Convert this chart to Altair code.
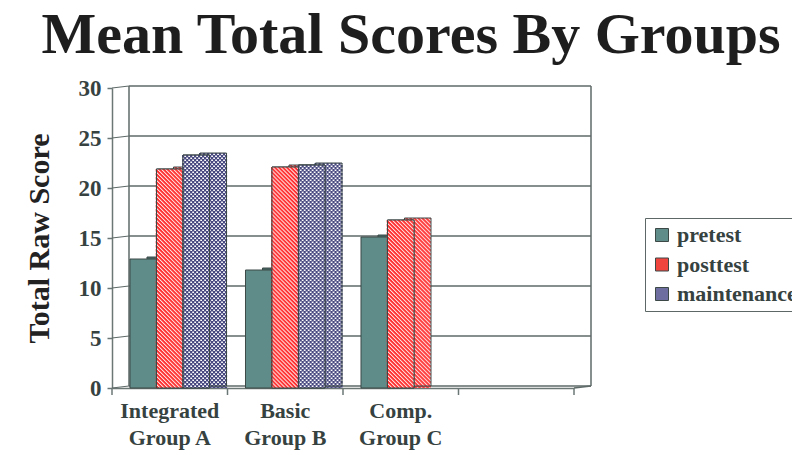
import altair as alt
import pandas as pd

# ---------------- data ----------------
title_text = "Mean Total Scores By Groups"
y_title = "Total Raw Score"
categories = ["Integrated|Group A", "Basic|Group B", "Comp.|Group C", " "]
series = ["pretest", "posttest", "maintenance"]
pretest = [12.9, 11.8, 15.1]
posttest = [21.9, 22.1, 16.8]
maintenance = [23.3, 22.3, None]
y_ticks = [0, 5, 10, 15, 20, 25, 30]

rows = []
for s, vals in zip(series, [pretest, posttest, maintenance]):
    for c, v in zip(categories, vals):
        if v is not None:
            rows.append({"cat": c, "series": s, "v": v})
df = pd.DataFrame(rows)
grid_df = pd.DataFrame({"g": y_ticks})
frame_df = pd.DataFrame({"lo": [min(y_ticks)], "hi": [max(y_ticks)]})
cat_df = pd.DataFrame({"cat": categories})

# ---------------- style ----------------
FONT = "Liberation Serif"
TXT = "#36423f"
AX = "#6b7775"
GRID = "#5e6a68"
EDGE = "#3c4846"
TEAL = "#5f8c88"
TEAL_SIDE = "#446b67"
RED = "#ff2222"
NAVY = "#474780"
W, H = 462, 300
BAR_W = 26.5
SLOT0 = 18            # left inset of first bar inside a category band (px)
DX, DY = 17, -2       # 3-D depth shift (px)
NCOL = 116            # pixel columns across one category band (pattern raster)

xscale = alt.Scale(domain=categories, paddingInner=0, paddingOuter=0)
front_o = alt.Scale(domain=series, paddingInner=0, paddingOuter=0.679, align=0.5)
back_o = alt.Scale(domain=series, paddingInner=0, paddingOuter=0.679, align=0.972)
col_o = alt.Scale(domain=list(range(NCOL)), paddingInner=0, paddingOuter=0)
yscale = alt.Scale(domain=[0, 30], nice=False, zero=True)

x_axis = alt.Axis(title=None, ticks=False, labelExpr="split(datum.value, '|')",
                  labelFont=FONT, labelFontWeight="bold", labelFontSize=22,
                  labelColor=TXT, labelLineHeight=27, labelPadding=12,
                  labelAngle=0, domainColor=AX, domainWidth=1.5, grid=False)
y_axis = alt.Axis(title=y_title, values=y_ticks, grid=False, tickSize=5,
                  tickColor=AX, tickWidth=1.5, domainColor=AX, domainWidth=1.5,
                  labelFont=FONT, labelFontWeight="bold", labelFontSize=23,
                  labelColor=TXT, labelPadding=6,
                  titleFont=FONT, titleFontSize=30, titleFontWeight="bold",
                  titleColor="#222", titleAngle=270, titleX=-73, titleY=150,
                  titleAlign="center", titleBaseline="middle")


def X(**kw):
    return alt.X("cat:N", scale=xscale, axis=x_axis, **kw)


def Y(field):
    return alt.Y(f"{field}:Q", scale=yscale, axis=y_axis)


XF = alt.XOffset("series:N", scale=front_o)
XB = alt.XOffset("series:N", scale=back_o)
XC = alt.XOffset("col:O", scale=col_o)


def columns(sub, shift, step):
    """one row per pixel column of each bar face (pattern raster)"""
    out = []
    for _, r in sub.iterrows():
        i = series.index(r["series"])
        start = int(round(SLOT0 + i * BAR_W)) + shift
        stop = int(round(SLOT0 + (i + 1) * BAR_W)) + shift
        for c in range(start, stop, step):
            out.append({"cat": r["cat"], "series": r["series"], "v": float(r["v"]),
                        "z": 0.0, "col": c, "k": (c - start) // step})
    return pd.DataFrame(out)


def faces(xo, shift, y_off):
    pre = df[df["series"] == "pretest"]
    post = df[df["series"] == "posttest"]
    mnt = df[df["series"] == "maintenance"]
    pat = pd.concat([post, mnt])
    out = [alt.Chart(pre).mark_bar(yOffset=y_off, fill=TEAL_SIDE, stroke=EDGE,
                                   strokeWidth=1)
           .encode(x=X(), xOffset=xo, y=Y("v"))] if y_off else []
    out.append(alt.Chart(pat).mark_bar(yOffset=y_off, fill="#ffffff", strokeWidth=0)
               .encode(x=X(), xOffset=xo, y=Y("v")))
    # red diagonal hatch: 1px dashed columns, phase shifted per column
    pc = columns(post, shift, 1)
    for p in range(4):
        d = pc[pc["col"] % 4 == p]
        out.append(alt.Chart(d).mark_rule(yOffset=y_off, color=RED, strokeWidth=1.2,
                                          strokeDash=[2.6, 1.4],
                                          strokeDashOffset=(4 - p) % 4)
                   .encode(x=X(bandPosition=0), xOffset=XC, y=Y("v"), y2="z:Q"))
    # navy checker: 2px dashed columns, alternating phase
    mc = columns(mnt, shift, 2)
    for p in range(2):
        d = mc[mc["k"] % 2 == p]
        out.append(alt.Chart(d).mark_rule(yOffset=y_off, color=NAVY, strokeWidth=2.2,
                                          strokeDash=[2.5, 1.5],
                                          strokeDashOffset=2 * p, xOffset=1)
                   .encode(x=X(bandPosition=0), xOffset=XC, y=Y("v"), y2="z:Q"))
    out.append(alt.Chart(pat).mark_bar(yOffset=y_off, fillOpacity=0, stroke=EDGE,
                                       strokeWidth=1)
               .encode(x=X(), xOffset=xo, y=Y("v")))
    return out


layers = []
# back wall grid
layers.append(alt.Chart(grid_df).mark_rule(color=GRID, strokeWidth=1.5, yOffset=DY)
              .encode(x=alt.value(DX), x2=alt.value(W + DX), y=Y("g")))
# tick connectors to wall
layers.append(alt.Chart(grid_df).mark_rule(color=GRID, strokeWidth=1.2, y2Offset=DY)
              .encode(x=alt.value(0), x2=alt.value(DX), y=Y("g"), y2="g:Q"))
# wall edges
for xv in (DX, W + DX):
    layers.append(alt.Chart(frame_df).mark_rule(color=GRID, strokeWidth=1.5,
                                                 yOffset=DY, y2Offset=DY)
                  .encode(x=alt.value(xv), y=Y("lo"), y2="hi:Q"))
# floor right connector
layers.append(alt.Chart(frame_df).mark_rule(color=GRID, strokeWidth=1.5, y2Offset=DY)
              .encode(x=alt.value(W), x2=alt.value(W + DX), y=Y("lo"), y2="lo:Q"))

# back / side faces (shifted in depth)
layers += faces(XB, DX, DY)

# front faces: solid base carries the legend, patterns drawn over it
layers.append(alt.Chart(df).mark_bar(stroke=EDGE, strokeWidth=1).encode(
    x=X(), xOffset=XF, y=Y("v"),
    color=alt.Color("series:N", scale=alt.Scale(domain=series,
                                                range=[TEAL, "#f0443f", "#6e6ea0"]),
                    legend=alt.Legend(orient="none", legendX=533, legendY=130,
                                      title=None, symbolType="square", symbolSize=169,
                                      symbolStrokeColor=EDGE, symbolStrokeWidth=1,
                                      symbolOpacity=1, labelFont=FONT,
                                      labelFontWeight="bold", labelFontSize=22,
                                      labelColor=TXT, labelOffset=4, rowPadding=7.5,
                                      padding=6, strokeColor="#5d6866",
                                      fillColor="white", labelLimit=400))))
layers += faces(XF, 0, 0)

# category ticks below the axis
layers.append(alt.Chart(cat_df).mark_rule(color=AX, strokeWidth=1.5)
              .encode(x=X(bandPosition=0), y=alt.value(H), y2=alt.value(H + 7)))
layers.append(alt.Chart(frame_df).mark_rule(color=AX, strokeWidth=1.5)
              .encode(x=alt.value(W), y=alt.value(H), y2=alt.value(H + 7)))

chart = alt.layer(*layers).resolve_scale(xOffset="independent").properties(
    width=W, height=H,
    autosize=alt.AutoSizeParams(type="none"),
    padding={"left": 112, "top": 88, "right": 218, "bottom": 67},
    title=alt.TitleParams(title_text, font=FONT, fontSize=58, fontWeight="bold",
                          color="#1e1e1e", anchor="middle", dx=68, dy=61,
                          offset=27, baseline="alphabetic"),
    background="white",
).configure_view(stroke=None)

chart.save("out.html", embed_options={"renderer": "svg", "actions": False})
